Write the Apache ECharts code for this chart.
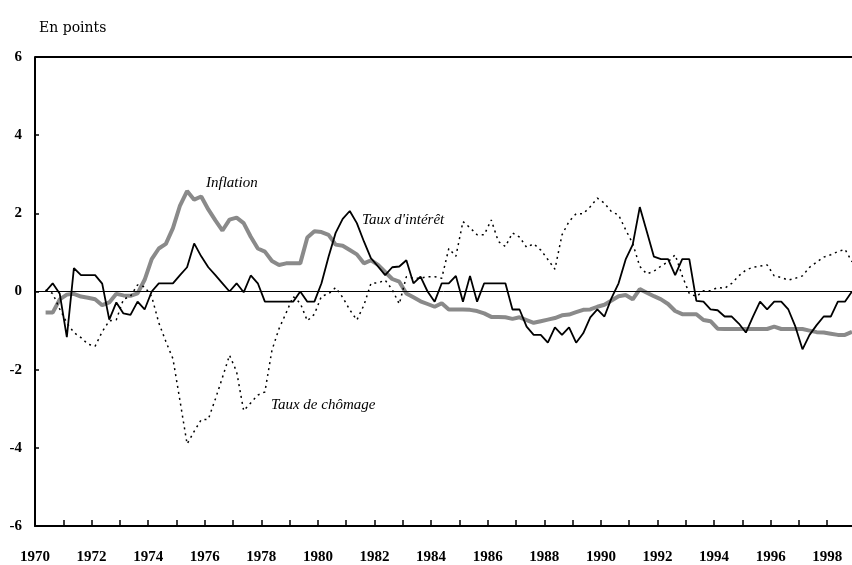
<!DOCTYPE html>
<html>
<head>
<meta charset="utf-8">
<title>En points</title>
<script src="https://cdn.jsdelivr.net/npm/echarts@6/dist/echarts.min.js"></script>
<style>
html, body { margin: 0; padding: 0; background: #fff; }
#chart { width: 852px; height: 565px; }
</style>
</head>
<body>
<div id="chart"></div>
<script>
// Quarterly series, first point = 2nd quarter 1970 (plotted mid-quarter)
const firstQuarter = 1970.375;
const quarterStep = 0.25;

const inflation = [
    -0.54, -0.54, -0.2, -0.08, -0.06, -0.13, -0.16, -0.2, -0.35, -0.28,
    -0.06, -0.1, -0.11, -0.05, 0.3, 0.83, 1.1, 1.22, 1.62, 2.2,
    2.57, 2.35, 2.43, 2.1, 1.82, 1.56, 1.84, 1.89, 1.75, 1.4,
    1.1, 1.02, 0.78, 0.68, 0.72, 0.72, 0.72, 1.38, 1.54, 1.52,
    1.45, 1.2, 1.17, 1.06, 0.95, 0.72, 0.8, 0.68, 0.5, 0.32,
    0.25, -0.05, -0.15, -0.25, -0.32, -0.39, -0.3, -0.46, -0.46, -0.46,
    -0.47, -0.5, -0.56, -0.65, -0.65, -0.66, -0.7, -0.66, -0.73, -0.8,
    -0.76, -0.72, -0.68, -0.61, -0.59, -0.53, -0.47, -0.46, -0.39, -0.34,
    -0.23, -0.12, -0.09, -0.2, 0.06, -0.03, -0.12, -0.2, -0.32, -0.5,
    -0.58, -0.58, -0.58, -0.73, -0.76, -0.95, -0.96, -0.96, -0.96, -0.96,
    -0.96, -0.96, -0.96, -0.9, -0.96, -0.96, -0.96, -0.96, -1.0, -1.04,
    -1.05, -1.08, -1.11, -1.11, -1.03
];

const tauxInteret = [
    0.0, 0.21, -0.06, -1.17, 0.6, 0.42, 0.42, 0.42, 0.2, -0.72,
    -0.28, -0.56, -0.6, -0.26, -0.46, 0.0, 0.21, 0.21, 0.21, 0.42,
    0.62, 1.23, 0.9, 0.62, 0.42, 0.21, 0.0, 0.21, -0.02, 0.41,
    0.21, -0.26, -0.26, -0.26, -0.26, -0.26, 0.0, -0.26, -0.26, 0.21,
    0.89, 1.5, 1.86, 2.06, 1.75, 1.28, 0.85, 0.64, 0.42, 0.62,
    0.64, 0.8, 0.21, 0.38, 0.0, -0.26, 0.21, 0.21, 0.4, -0.26,
    0.4, -0.26, 0.21, 0.21, 0.21, 0.21, -0.46, -0.46, -0.9, -1.11,
    -1.11, -1.31, -0.92, -1.11, -0.92, -1.31, -1.07, -0.66, -0.46, -0.64,
    -0.17, 0.21, 0.82, 1.2, 2.16, 1.53, 0.89, 0.83, 0.83, 0.42,
    0.83, 0.83, -0.24, -0.26, -0.46, -0.48, -0.64, -0.64, -0.82, -1.05,
    -0.64, -0.26, -0.46, -0.26, -0.26, -0.46, -0.9, -1.48, -1.11, -0.86,
    -0.64, -0.64, -0.26, -0.26, 0.0
];

const tauxChomage = [
    0.04, -0.05, -0.45, -0.8, -1.05, -1.18, -1.35, -1.4, -1.03, -0.75,
    -0.72, -0.2, -0.12, 0.17, 0.12, -0.13, -0.8, -1.28, -1.72, -2.8,
    -3.9, -3.58, -3.28, -3.27, -2.75, -2.2, -1.63, -2.05, -3.05, -2.85,
    -2.65, -2.57, -1.5, -0.95, -0.55, -0.13, -0.3, -0.75, -0.58, -0.12,
    -0.06, 0.1, -0.15, -0.47, -0.73, -0.35, 0.21, 0.22, 0.29, 0.05,
    -0.32, 0.38, 0.34, 0.34, 0.38, 0.38, 0.34, 1.1, 0.9, 1.79,
    1.63, 1.45, 1.45, 1.83, 1.28, 1.15, 1.5, 1.39, 1.13, 1.22,
    1.06, 0.82, 0.57, 1.45, 1.79, 1.99, 1.99, 2.17, 2.39, 2.26,
    2.04, 1.96, 1.58, 1.23, 0.64, 0.45, 0.52, 0.65, 0.76, 0.94,
    0.4, -0.05, -0.13, 0.02, 0.02, 0.1, 0.08, 0.21, 0.4, 0.55,
    0.62, 0.65, 0.68, 0.4, 0.36, 0.29, 0.34, 0.4, 0.62, 0.75,
    0.88, 0.94, 1.02, 1.08, 0.76
];

const yTicks = [-6, -4, -2, 0, 2, 4, 6];

function toPairs(values) {
    return values.map((v, i) => [firstQuarter + i * quarterStep, v]);
}

const chart = echarts.init(document.getElementById('chart'), null, { renderer: 'canvas' });
const serif = '"Liberation Serif", "DejaVu Serif", serif';

const option = {
    animation: false,
    backgroundColor: '#fff',
    grid: { left: 35, right: 0, top: 57, bottom: 39 },
    title: {
        text: 'En points',
        left: 34,
        top: 16,
        textStyle: { fontFamily: '"DejaVu Serif", serif', fontSize: 14, fontWeight: 'normal', color: '#000' }
    },
    xAxis: {
        type: 'value',
        min: 1970,
        max: 1998.875,
        interval: 1,
        axisLine: { show: true, onZero: false, lineStyle: { color: '#000', width: 2 } },
        axisTick: { show: true, inside: true, length: 6, lineStyle: { color: '#000', width: 1.5 } },
        splitLine: { show: false },
        axisLabel: {
            showMaxLabel: false,
            margin: 24,
            fontFamily: serif,
            fontSize: 15,
            fontWeight: 'bold',
            color: '#000',
            formatter: v => (v % 2 === 0 ? String(v) : '')
        }
    },
    yAxis: {
        type: 'value',
        min: yTicks[0],
        max: yTicks[yTicks.length - 1],
        interval: 2,
        axisLine: { show: true, lineStyle: { color: '#000', width: 2 } },
        axisTick: { show: true, inside: true, length: 4, lineStyle: { color: '#000', width: 1.5 } },
        splitLine: { show: false },
        axisLabel: {
            margin: 13,
            fontFamily: serif,
            fontSize: 15,
            fontWeight: 'bold',
            color: '#000'
        }
    },
    series: [
        {
            name: 'Inflation',
            type: 'line',
            data: toPairs(inflation),
            showSymbol: false,
            lineStyle: { color: '#8a8a8a', width: 4 },
            markLine: {
                silent: true,
                symbol: 'none',
                label: { show: false },
                data: [
                    { yAxis: 0, lineStyle: { color: '#000', width: 1, type: 'solid' } },
                    { yAxis: 6, lineStyle: { color: '#000', width: 2, type: 'solid' } }
                ]
            },
            z: 2
        },
        {
            name: 'Taux de chômage',
            type: 'line',
            data: toPairs(tauxChomage),
            showSymbol: false,
            lineStyle: { color: '#000', width: 1.5, type: [2, 4] },
            z: 3
        },
        {
            name: "Taux d'intérêt",
            type: 'line',
            data: toPairs(tauxInteret),
            showSymbol: false,
            lineStyle: { color: '#000', width: 1.8 },
            z: 4
        }
    ],
    graphic: [
        { type: 'text', left: 206, top: 176, style: { text: 'Inflation', font: 'italic 15px ' + serif, fill: '#000' } },
        { type: 'text', left: 362, top: 213, style: { text: "Taux d'intérêt", font: 'italic 15px ' + serif, fill: '#000' } },
        { type: 'text', left: 271, top: 398, style: { text: 'Taux de chômage', font: 'italic 15px ' + serif, fill: '#000' } }
    ]
};

chart.setOption(option);
</script>
</body>
</html>
